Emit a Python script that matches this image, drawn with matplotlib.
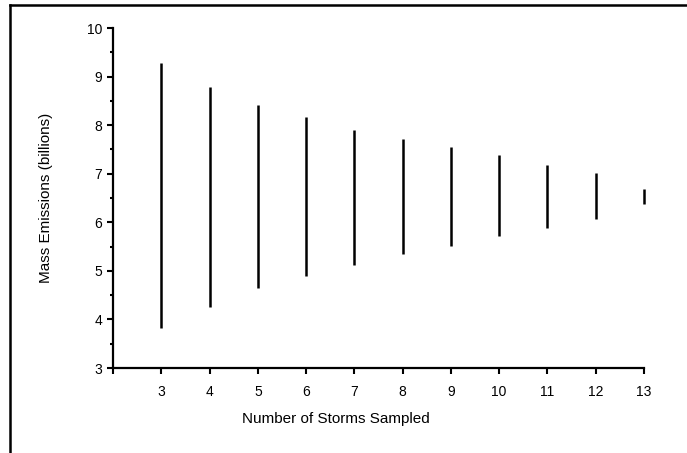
import numpy as np
import matplotlib
matplotlib.use("Agg")
from matplotlib import pyplot as plt
from matplotlib.lines import Line2D
from matplotlib.ticker import MultipleLocator

plt.rcParams['font.family'] = ['Liberation Sans', 'DejaVu Sans']

# number of storms sampled and the range of mass emissions (billions)
storms = [3, 4, 5, 6, 7, 8, 9, 10, 11, 12, 13]
low = [3.82, 4.26, 4.64, 4.89, 5.13, 5.34, 5.51, 5.71, 5.88, 6.07, 6.37]
high = [9.28, 8.78, 8.41, 8.16, 7.91, 7.71, 7.54, 7.38, 7.17, 7.01, 6.68]

fig = plt.figure(figsize=(6.87, 4.53), dpi=100)
ax = fig.add_axes([113/687, 1-368/453, 531/687, 340/453])

ax.vlines(storms, low, high, color='black', lw=1.8, clip_on=False)

ax.set_xlim(2, 13)
ax.set_ylim(3, 10)
ax.set_xticks(range(2, 14))
ax.set_xticklabels([''] + [str(s) for s in storms])
ax.set_yticks(range(3, 11))
ax.yaxis.set_minor_locator(MultipleLocator(0.5))

for s in ['top', 'right']:
	ax.spines[s].set_visible(False)
for s in ['left', 'bottom']:
	ax.spines[s].set_linewidth(1.6)

ax.tick_params(which='major', length=4, width=1.5, labelsize=10, pad=8)
ax.tick_params(which='minor', length=2, width=1.5)
ax.tick_params(axis='y', pad=4)

ax.set_xlabel("Number of Storms Sampled", fontsize=11)
ax.xaxis.set_label_coords(0.419, -0.129)
ax.set_ylabel("Mass Emissions (billions)", fontsize=11)
ax.yaxis.set_label_coords(-0.113, 0.5)

# frame around the figure panel
fig.add_artist(Line2D([10/687, 1.0], [1-5/453, 1-5/453], color='black', lw=1.8))
fig.add_artist(Line2D([10/687, 10/687], [0.0, 1-5/453], color='black', lw=1.8))

fig.savefig("out.png", dpi=100)
